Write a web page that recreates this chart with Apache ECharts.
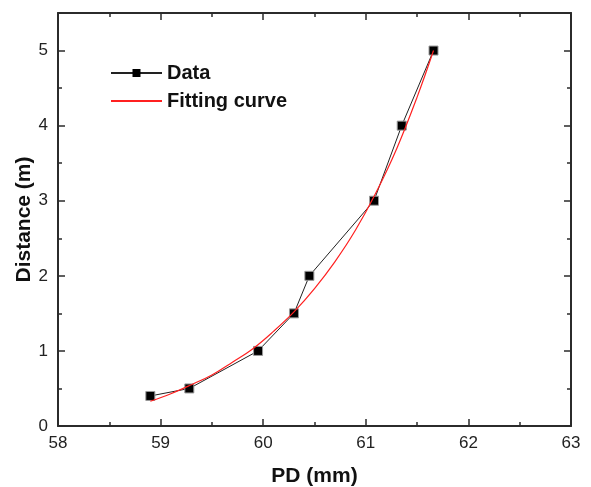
<!DOCTYPE html>
<html>
<head>
<meta charset="utf-8">
<script src="https://cdn.jsdelivr.net/npm/echarts@6/dist/echarts.min.js"></script>
<style>html,body{margin:0;padding:0;background:#fff}#c{width:591px;height:487px}</style>
</head>
<body>
<div id="c"></div>
<script>
// Measured data points (PD in mm, Distance in m)
const dataPD = [58.90, 59.28, 59.95, 60.30, 60.45, 61.08, 61.35, 61.66];
const dataDist = [0.4, 0.5, 1.0, 1.5, 2.0, 3.0, 4.0, 5.0];
// Fitting curve, values
const fitPD = [58.9, 59.1, 59.3, 59.5, 59.7, 59.9, 60.1, 60.3, 60.5, 60.7, 60.9, 61.1, 61.3, 61.5, 61.66];
const fitDist = [0.33, 0.43, 0.55, 0.68, 0.85, 1.03, 1.26, 1.52, 1.83, 2.19, 2.61, 3.11, 3.69, 4.38, 5.0];
const xTicks = [58, 59, 60, 61, 62, 63];
const yTicks = [0, 1, 2, 3, 4, 5];

const chart = echarts.init(document.getElementById('c'), null, {renderer: 'canvas'});
const font = 'Liberation Sans, Arial, sans-serif';
const lineCol = '#2b2b2b';
const xMin = xTicks[0], xMax = xTicks[xTicks.length - 1];
const yMin = yTicks[0], yMax = 5.5;

function xAx(pos, labels) {
  return {
    type: 'value', position: pos, min: xMin, max: xMax, interval: 1,
    axisLine: {show: true, onZero: false, lineStyle: {color: lineCol, width: 2}},
    axisTick: {show: true, inside: true, length: 7, lineStyle: {color: lineCol, width: 1.5}},
    minorTick: {show: true, splitNumber: 2, length: 4, lineStyle: {color: lineCol, width: 1.5}},
    splitLine: {show: false}, minorSplitLine: {show: false},
    axisLabel: {show: labels, margin: 9, fontFamily: font, fontSize: 17, color: '#222'},
    name: labels ? 'PD (mm)' : '', nameLocation: 'middle', nameGap: 40,
    nameTextStyle: {fontFamily: font, fontSize: 21, fontWeight: 'bold', color: '#111'}
  };
}
function yAx(pos, labels, minor) {
  return {
    type: 'value', position: pos, min: yMin, max: yMax, interval: minor ? 0.5 : 1,
    axisLine: {show: !minor, onZero: false, lineStyle: {color: lineCol, width: 2}},
    axisTick: {show: true, inside: true, length: minor ? 4 : 7, lineStyle: {color: lineCol, width: 1.5}},
    splitLine: {show: false},
    axisLabel: {show: labels, showMaxLabel: false, margin: 10, fontFamily: font, fontSize: 17, color: '#222'},
    name: labels ? 'Distance (m)' : '', nameLocation: 'middle', nameGap: 23, nameRotate: 90,
    nameMoveOverlap: false,
    nameTextStyle: {fontFamily: font, fontSize: 21, fontWeight: 'bold', color: '#111'}
  };
}

chart.setOption({
  animation: false,
  backgroundColor: '#fff',
  grid: {left: 58, right: 20, top: 13, bottom: 61, containLabel: false, outerBoundsMode: 'none'},
  legend: {
    orient: 'vertical', left: 110, top: 63, padding: 0, itemWidth: 51, itemHeight: 10, itemGap: 8,
    textStyle: {fontFamily: font, fontSize: 20, fontWeight: 'bold', color: '#111'},
    data: [
      {name: 'Data', itemStyle: {color: '#000', borderWidth: 0}},
      {name: 'Fitting curve', itemStyle: {opacity: 0}}
    ]
  },
  xAxis: [xAx('bottom', true), xAx('top', false)],
  yAxis: [yAx('left', true, false), yAx('right', false, false), yAx('left', false, true), yAx('right', false, true)],
  series: [
    {
      name: 'Data', type: 'line', xAxisIndex: 0, yAxisIndex: 0,
      data: dataPD.map((x, i) => [x, dataDist[i]]),
      symbol: 'rect', symbolSize: 9,
      lineStyle: {color: '#222', width: 1},
      itemStyle: {color: '#000', borderColor: '#999', borderWidth: 1},
      z: 3
    },
    {
      name: 'Fitting curve', type: 'line', xAxisIndex: 0, yAxisIndex: 0,
      data: fitPD.map((x, i) => [x, fitDist[i]]),
      smooth: 0.4, showSymbol: false, symbol: 'none',
      lineStyle: {color: '#ff2020', width: 1.2},
      itemStyle: {color: '#ff2020'},
      z: 4
    }
  ]
});
</script>
</body>
</html>
